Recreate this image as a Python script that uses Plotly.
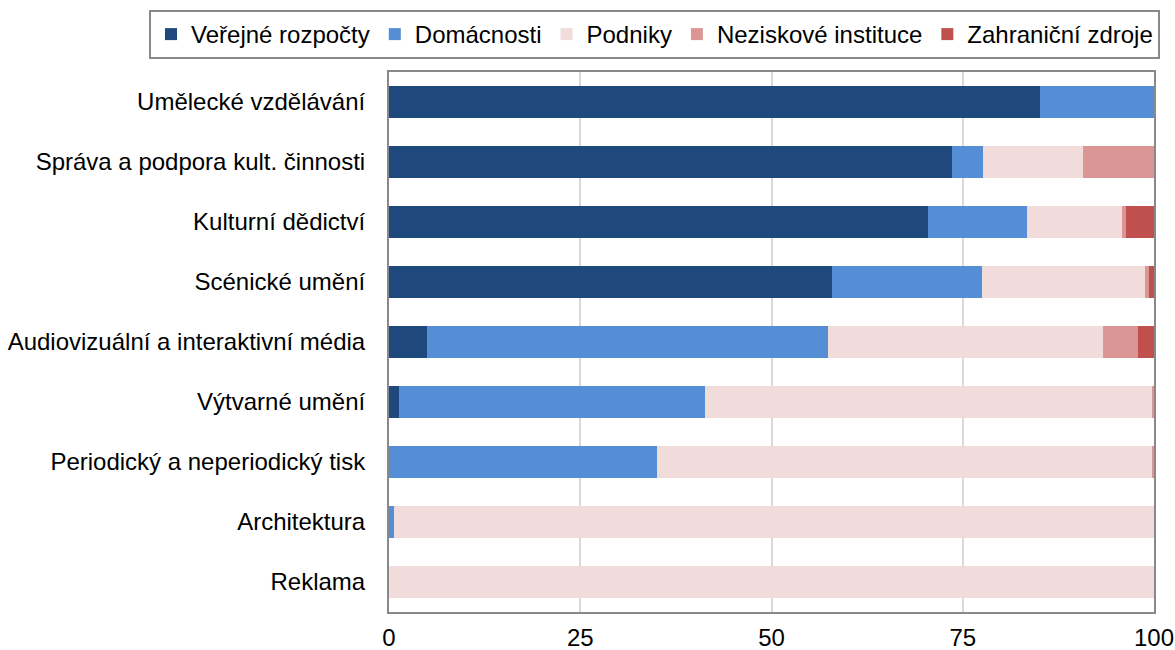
import plotly.graph_objects as go

categories = ["Umělecké vzdělávání", "Správa a podpora kult. činnosti", "Kulturní dědictví",
              "Scénické umění", "Audiovizuální a interaktivní média", "Výtvarné umění",
              "Periodický a neperiodický tisk", "Architektura", "Reklama"]
series_names = ["Veřejné rozpočty", "Domácnosti", "Podniky", "Neziskové instituce", "Zahraniční zdroje"]
verejne = [85.1, 73.6, 70.5, 57.9, 5.0, 1.3, 0.0, 0.0, 0.0]
domacnosti = [14.9, 4.1, 12.9, 19.6, 52.4, 40.0, 35.0, 0.7, 0.0]
podniky = [0.0, 13.0, 12.4, 21.3, 35.9, 58.5, 64.8, 99.3, 100.0]
neziskove = [0.0, 9.3, 0.5, 0.5, 4.6, 0.2, 0.2, 0.0, 0.0]
zahranicni = [0.0, 0.0, 3.7, 0.7, 2.1, 0.0, 0.0, 0.0, 0.0]
colors = ["#1F497D", "#558ED5", "#F2DCDB", "#D99694", "#C0504D"]
x_ticks = [0, 25, 50, 75, 100]

fig = go.Figure()
for name, vals, col in zip(series_names, [verejne, domacnosti, podniky, neziskove, zahranicni], colors):
    fig.add_trace(go.Bar(y=categories, x=vals, name=name, orientation="h",
                         marker=dict(color=col, line=dict(width=0))))

fig.update_layout(
    barmode="stack",
    bargap=0.467,
    width=1175, height=650,
    margin=dict(l=389, r=21, t=72, b=38, autoexpand=False),
    plot_bgcolor="white", paper_bgcolor="white",
    font=dict(family="Liberation Sans, Arial", size=24, color="black"),
    legend=dict(orientation="h", x=-0.3137, xanchor="left", y=1.1148, yanchor="top",
                bordercolor="#898989", borderwidth=2, font=dict(size=24),
                traceorder="normal", itemwidth=30, tracegroupgap=0),
    xaxis=dict(range=[0, 100], tickvals=x_ticks, showgrid=True, gridcolor="#D9D9D9", gridwidth=2,
               showline=True, linecolor="#898989", linewidth=2, mirror=True, zeroline=False,
               ticks="", ticklabelstandoff=3, tickfont=dict(size=24)),
    yaxis=dict(autorange="reversed", showline=True, linecolor="#898989", linewidth=2, mirror=True,
               ticks="", ticklabelstandoff=17, tickfont=dict(size=24)),
)
fig.write_html("out.html", config={"displayModeBar": False},
               post_script="document.body.style.margin='0';document.body.style.overflow='hidden';")
